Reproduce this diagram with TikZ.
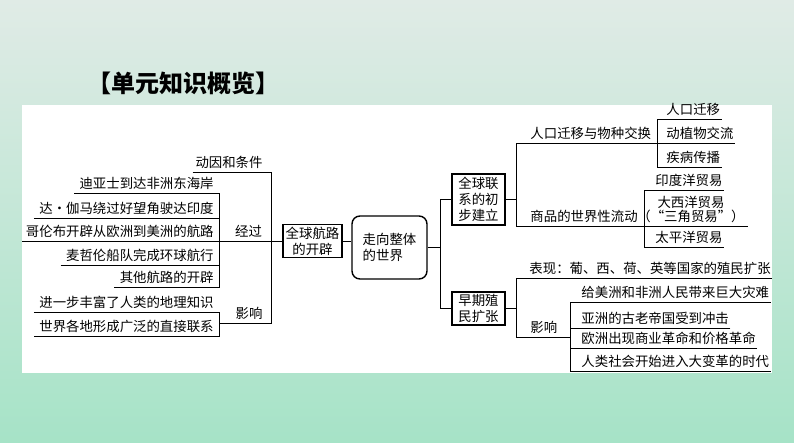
\documentclass[tikz,border=0pt]{standalone}
\usepackage{fontspec}
\setmainfont{Noto Sans CJK SC}
\usetikzlibrary{positioning}
\definecolor{bgtop}{RGB}{224,235,230}
\definecolor{bgbot}{RGB}{166,227,199}
\newcommand{\fs}{\fontsize{13.4}{16}\selectfont}

\begin{document}
\begin{tikzpicture}[x=1pt, y=-1pt, line width=0.9pt,
	lft/.style={anchor=south east, inner xsep=5pt, inner ysep=3pt, font=\fs},
	rgt/.style={anchor=south west, inner xsep=1pt, inner ysep=3pt, font=\fs},
	mid/.style={anchor=south, inner xsep=2.5pt, inner ysep=3pt, font=\fs},
	main/.style={rectangle, draw=black, line width=1.1pt, align=center, inner sep=1pt, font=\fs},
	hub/.style={rectangle, rounded corners=8pt, draw=black, line width=1.4pt, align=left, font=\fs}
	]

	% background and panel
	\shade[top color=bgtop, bottom color=bgbot] (0,0) rectangle (794,443);
	\fill[white] (22,105) rectangle (772,373);
	\node (title) at (183,83) {\fontsize{24}{28}\selectfont\bfseries 【单元知识概览】};

	% centre boxes
	\node (world) [hub, minimum width=75pt, minimum height=63pt] at (389.5,247.5) {走向整体\\的世界};
	\node (route) [main, minimum width=59pt, minimum height=33pt] at (312.5,241) {全球航路\\的开辟};
	\node (link) [main, minimum width=53pt, minimum height=51pt] at (478.5,199.5) {全球联\\系的初\\步建立};
	\node (colony) [main, minimum width=53pt, minimum height=33pt] at (478.5,308.5) {早期殖\\民扩张};

	\draw (route.east) -- (route.east -| world.west);
	\draw (world.east) -- ++(12.5,0) coordinate (b2);
	\draw (link.west) -| (b2) |- (colony.west);

	% left side
	\coordinate (edge) at (22,241);
	\coordinate (b1t) at (271,172);
	\coordinate (b1b) at (271,323);
	\node (dongyin) [mid] at (229,172) {动因和条件};
	\node (jingguo) [mid] at (248.5,241) {经过};
	\node (yingxiang) [mid] at (249,323) {影响};
	\node (dias) [lft] at (219,193) {迪亚士到达非洲东海岸};
	\node (gama) [lft] at (219,218) {达·伽马绕过好望角驶达印度};
	\node (columbus) [lft] at (219,241) {哥伦布开辟从欧洲到美洲的航路};
	\node (magellan) [lft] at (219,265) {麦哲伦船队完成环球航行};
	\node (other) [lft] at (219,287) {其他航路的开辟};
	\node (know) [lft] at (219,312) {进一步丰富了人类的地理知识};
	\node (contact) [lft] at (219,336) {世界各地形成广泛的直接联系};

	\draw (edge) -- (route.west);
	\draw (dongyin.south west) -- (b1t) -- (b1b) -- (b1b -| contact.south east);
	\draw (dias.south west) -- (dias.south east) -- (other.south east) -- (other.south west);
	\draw (gama.south west) -- (gama.south east);
	\draw (magellan.south west) -- (magellan.south east);
	\draw (know.south west) -- (know.south east) -- (contact.south east) -- (contact.south west);

	% right side, top
	\draw (link.east) -- ++(11,0) coordinate (b3);
	\coordinate (b5) at (657,143);
	\coordinate (b6) at (644,226);
	\node (move) [rgt] at (529,143) {人口迁移与物种交换};
	\node (goods) [rgt] at (529,226) {商品的世界性流动};
	\node (migrate) [rgt] at (665,119) {人口迁移};
	\node (flora) [rgt] at (665,143) {动植物交流};
	\node (illness) [rgt] at (665,167) {疾病传播};
	\node (indian) [rgt] at (654,190) {印度洋贸易};
	\node (atlantic) [mid, font=\fontsize{13.4}{13.5}\selectfont, align=center] at (691,226) {大西洋贸易\\（“三角贸易”）};
	\node (pacific) [rgt] at (654,247) {太平洋贸易};

	\draw (b5) -| (b3) |- (atlantic.south east);
	\draw (migrate.south east) -- (migrate.south east -| b5) -- (illness.south east -| b5) -- (illness.south east);
	\draw (flora.south east) -- (b5);
	\draw (indian.south east) -- (indian.south east -| b6) -- (pacific.south east -| b6) -- (pacific.south east);

	% right side, bottom
	\draw (colony.east) -- ++(11,0) coordinate (b4);
	\coordinate (b7) at (570,337);
	\node (show) [rgt] at (528,278) {表现：葡、西、荷、英等国家的殖民扩张};
	\node (effect) [rgt] at (529,337) {影响};
	\node (disaster) [rgt] at (580,302) {给美洲和非洲人民带来巨大灾难};
	\node (asia) [rgt] at (580,328) {亚洲的古老帝国受到冲击};
	\node (europe) [rgt] at (580,348) {欧洲出现商业革命和价格革命};
	\node (era) [rgt] at (580,371) {人类社会开始进入大变革的时代};

	\draw (show.south east) -| (b4) |- (b7);
	\draw (disaster.south east) -- (disaster.south east -| b7) -- (era.south east -| b7) -- (era.south east);
	\draw (asia.south east) -- (asia.south east -| b7);
	\draw (europe.south east) -- (europe.south east -| b7);

\end{tikzpicture}
\end{document}
